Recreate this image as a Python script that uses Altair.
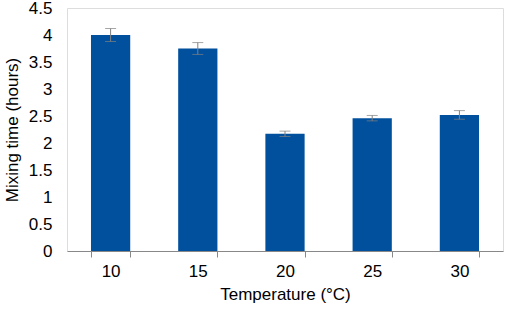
import altair as alt
import pandas as pd

temps = ["10", "15", "20", "25", "30"]
means = [4.0, 3.75, 2.17, 2.46, 2.52]
errs = [0.12, 0.11, 0.05, 0.05, 0.08]
yticks = [0, 0.5, 1, 1.5, 2, 2.5, 3, 3.5, 4, 4.5]

df = pd.DataFrame({"temp": temps, "mean": means, "err": errs})

FONT = "Liberation Sans"
FS = 17
xaxis = alt.Axis(labelAngle=0, labelFontSize=FS, titleFontSize=FS,
                 labelFont=FONT, titleFont=FONT, labelColor="black",
                 titleColor="black", domainColor="#888888",
                 tickColor="#888888", tickSize=6, tickBand="extent",
                 labelPadding=6, titlePadding=7, titleFontWeight="normal")
yaxis = alt.Axis(values=yticks, format="~g", grid=False, ticks=False,
                 domain=False, labelOverlap=False, labelFontSize=FS,
                 titleFontSize=FS, labelFont=FONT, titleFont=FONT,
                 labelColor="black", titleColor="black",
                 labelPadding=15, titlePadding=7,
                 titleFontWeight="normal")
yscale = alt.Scale(domain=[0, 4.5], nice=False)

def X():
    return alt.X("temp:N", sort=temps, title="Temperature (°C)",
                 scale=alt.Scale(paddingInner=0.55, paddingOuter=0.275),
                 axis=xaxis)

def Y(field):
    return alt.Y(field, title="Mixing time (hours)", scale=yscale, axis=yaxis)

base = alt.Chart(df).transform_calculate(
    lo="datum.mean - datum.err", hi="datum.mean + datum.err")

bars = base.mark_bar(color="#00509E").encode(x=X(), y=Y("mean:Q"))

rule = base.mark_rule(color="#808080", strokeWidth=1).encode(
    x=X(), y=Y("lo:Q"), y2="hi:Q")

cap_hi = base.mark_tick(color="#808080", thickness=1, size=11,
                        orient="horizontal").encode(x=X(), y=Y("hi:Q"))
cap_lo = base.mark_tick(color="#808080", thickness=1, size=11,
                        orient="horizontal").encode(x=X(), y=Y("lo:Q"))

chart = alt.layer(bars, rule, cap_hi, cap_lo).properties(
    width=436, height=243,
    autosize=alt.AutoSizeParams(type="none"),
    padding={"left": 67, "top": 8, "right": 2, "bottom": 61},
).configure_view(stroke="#888888", strokeWidth=1).configure(background="white")

chart.save("out.html", embed_options={"renderer": "svg", "actions": False})
